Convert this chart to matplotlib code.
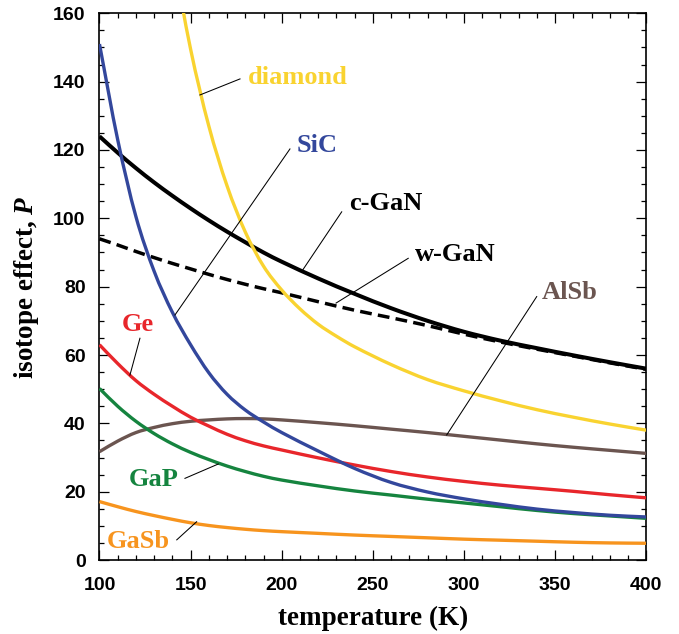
import matplotlib
matplotlib.use("Agg")
import matplotlib.pyplot as plt
from matplotlib.ticker import MultipleLocator
from matplotlib.path import Path
from matplotlib.patches import PathPatch

plt.rcParams["mathtext.fontset"] = "custom"
plt.rcParams["mathtext.it"] = "Liberation Serif:bold:italic"
plt.rcParams["mathtext.rm"] = "Liberation Serif:bold"

# ---------------- data ----------------
T = [100, 110, 120, 130, 140, 150, 160, 170, 180, 190, 200,
     220, 240, 260, 280, 300, 320, 340, 360, 380, 400]

T_diamond = [140, 150, 160, 170, 180, 190, 200, 210, 220, 230, 240,
             260, 280, 300, 320, 340, 360, 380, 400]
P_diamond = [178, 149.5, 127, 109.5, 96, 86, 79, 73.5, 69.0, 65.5, 62.4,
             57.2, 52.8, 49.5, 46.6, 44.0, 41.8, 39.8, 38.0]

P_SiC = [151, 123, 100.5, 84.5, 72.5, 63, 54.8, 48.5, 43.9, 40.4, 37.3,
         31.9, 26.8, 22.7, 19.9, 17.9, 16.3, 14.9, 13.9, 13.1, 12.6]
P_cGaN = [124, 119.2, 114.7, 110.5, 106.6, 102.9, 99.4, 96.1, 93.0, 90.0, 87.3,
          82.4, 77.9, 73.7, 70.0, 66.8, 64.2, 62.0, 59.9, 57.9, 56.0]
P_wGaN = [94, 92.2, 90.3, 88.5, 86.8, 85.2, 83.6, 82.1, 80.7, 79.4, 78.2,
          75.6, 73.1, 70.9, 68.6, 66.1, 63.8, 61.7, 59.7, 57.7, 55.8]
P_Ge = [63, 57.5, 52.5, 48.5, 45, 41.8, 39.2, 36.8, 34.9, 33.4, 32.2,
        29.9, 27.8, 25.9, 24.3, 23.0, 21.9, 21.0, 20.1, 19.1, 18.2]
P_GaP = [50.2, 45, 40.6, 37, 34, 31.5, 29.4, 27.5, 25.9, 24.5, 23.4,
         21.7, 20.2, 19.0, 17.8, 16.7, 15.6, 14.5, 13.6, 12.9, 12.2]
P_GaSb = [17.1, 15.6, 14.2, 13, 11.9, 10.9, 10.1, 9.5, 9.0, 8.6, 8.3,
          7.8, 7.3, 6.9, 6.5, 6.1, 5.8, 5.5, 5.2, 5.0, 4.9]
P_AlSb = [31.7, 34.8, 37.3, 38.8, 39.9, 40.6, 41.0, 41.3, 41.4, 41.3, 41.0,
          40.2, 39.3, 38.3, 37.3, 36.2, 35.1, 34.0, 33.0, 32.1, 31.2]

x_ticks = [100, 150, 200, 250, 300, 350, 400]
y_ticks = [0, 20, 40, 60, 80, 100, 120, 140, 160]

# ---------------- style ----------------
C_YEL = "#F9D330"
C_BLU = "#33479C"
C_RED = "#E8262B"
C_GRN = "#15843F"
C_ORA = "#F7941E"
C_BRN = "#6B5550"
C_BLK = "#000000"

SERIF = ["Liberation Serif", "DejaVu Serif"]
SANS = ["Liberation Sans", "DejaVu Sans"]

fig = plt.figure(figsize=(6.79, 6.34), dpi=100)
ax = fig.add_axes([0.1465, 0.1167, 0.8053, 0.8623])


def smooth_curve(xs, ys, **kw):
    """Draw a smooth cubic (Hermite/Bezier) curve through the given points."""
    n = len(xs)
    slopes = []
    for i in range(n):
        if i == 0:
            m = (ys[1] - ys[0]) / (xs[1] - xs[0])
        elif i == n - 1:
            m = (ys[-1] - ys[-2]) / (xs[-1] - xs[-2])
        else:
            m = (ys[i + 1] - ys[i - 1]) / (xs[i + 1] - xs[i - 1])
        slopes.append(m)
    verts = [(xs[0], ys[0])]
    codes = [Path.MOVETO]
    for i in range(n - 1):
        h = xs[i + 1] - xs[i]
        verts += [(xs[i] + h / 3, ys[i] + slopes[i] * h / 3),
                  (xs[i + 1] - h / 3, ys[i + 1] - slopes[i + 1] * h / 3),
                  (xs[i + 1], ys[i + 1])]
        codes += [Path.CURVE4] * 3
    patch = PathPatch(Path(verts, codes), fill=False, capstyle="butt",
                      joinstyle="round", **kw)
    ax.add_patch(patch)


LW = 2.4
smooth_curve(T, P_cGaN, edgecolor=C_BLK, lw=2.9, zorder=2)
smooth_curve(T, P_wGaN, edgecolor=C_BLK, lw=2.5, zorder=2,
             linestyle=(0, (3.4, 1.8)))
smooth_curve(T, P_AlSb, edgecolor=C_BRN, lw=LW, zorder=3)
smooth_curve(T, P_GaSb, edgecolor=C_ORA, lw=LW, zorder=3)
smooth_curve(T, P_GaP, edgecolor=C_GRN, lw=LW, zorder=4)
smooth_curve(T, P_Ge, edgecolor=C_RED, lw=LW, zorder=4)
smooth_curve(T, P_SiC, edgecolor=C_BLU, lw=LW, zorder=5)
smooth_curve(T_diamond, P_diamond, edgecolor=C_YEL, lw=LW, zorder=5)

ax.set_xlim(100, 400)
ax.set_ylim(0, 160)
ax.xaxis.set_minor_locator(MultipleLocator(10))
ax.yaxis.set_minor_locator(MultipleLocator(5))
ax.set_xticks(x_ticks)
ax.set_yticks(y_ticks)
ax.tick_params(which="both", direction="in", top=True, right=True, width=0.9)
ax.tick_params(which="major", length=7)
ax.tick_params(which="minor", length=3.5)
ax.tick_params(axis="x", which="major", pad=12)
ax.tick_params(axis="y", which="major", pad=10)
for lab in ax.get_xticklabels() + ax.get_yticklabels():
    lab.set_fontfamily(SANS)
    lab.set_fontweight("bold")
    lab.set_fontsize(14)
for s in ax.spines.values():
    s.set_linewidth(1.2)

ax.set_xlabel("temperature (K)", fontfamily=SERIF, fontweight="bold",
              fontsize=19.5, labelpad=9)
ax.set_ylabel("isotope effect, $P$", fontfamily=SERIF,
              fontweight="bold", fontsize=19.5, labelpad=9)

# ---------------- labels with leader lines ----------------
LFS = 19


def label(text, color, line, pos, ha="left"):
    ax.plot(line[0], line[1], color="black", lw=0.75, zorder=6)
    ax.text(pos[0], pos[1], text, color=color, fontfamily=SERIF,
            fontweight="bold", fontsize=LFS, ha=ha, va="center", zorder=7)


label("diamond", C_YEL, ([155.1, 177.1], [136.1, 140.8]), (181.5, 141.2))
label("SiC", C_BLU, ([141.4, 204.5], [71.7, 120.3]), (208.4, 121.2))
label("c-GaN", C_BLK, ([210.9, 232.9], [84.4, 101.9]), (236.9, 104.2))
label("w-GaN", C_BLK, ([229.8, 269.4], [75.2, 88.3]), (273.1, 89.3))
label("AlSb", C_BRN, ([290.5, 339.9], [36.6, 77.1]), (342.6, 78.4))
label("Ge", C_RED, ([116.7, 122.2], [54.1, 64.9]), (121.3, 69.0), ha="center")
label("GaP", C_GRN, ([146.9, 165.2], [23.9, 28.1]), (115.8, 23.7))
label("GaSb", C_ORA, ([142.4, 153.3], [5.9, 11.2]), (104.0, 5.3))

fig.savefig("out.png", dpi=100)
